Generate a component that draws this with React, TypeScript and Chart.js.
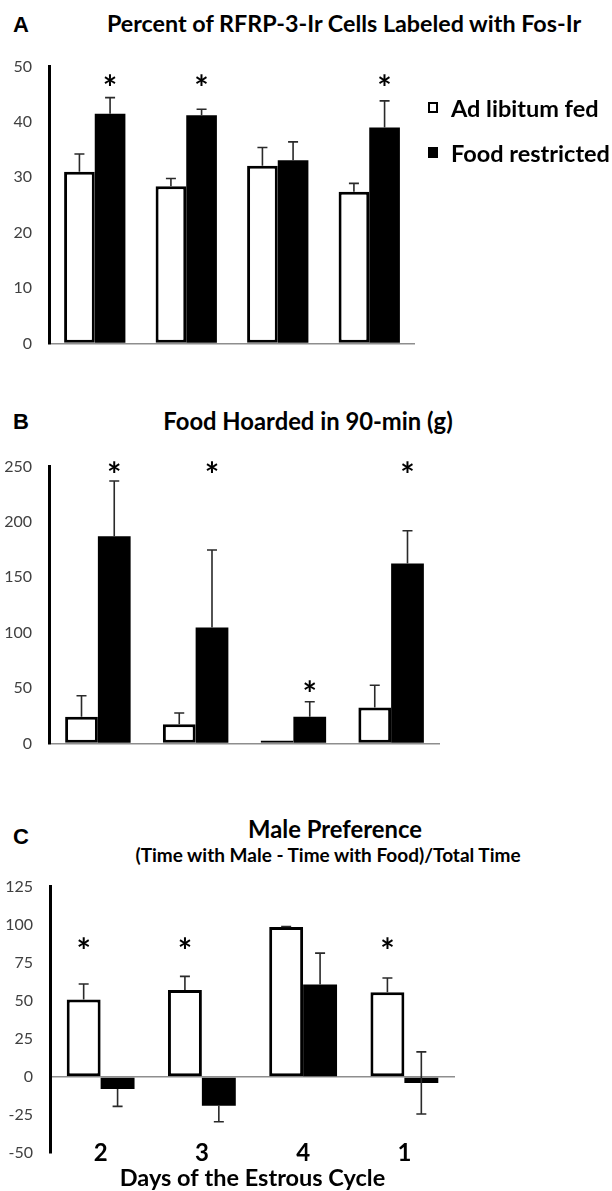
import React, { useEffect, useRef } from 'react';
import { Chart, registerables } from 'chart.js';

Chart.register(...registerables);

// ---------- data ----------
const seriesNames = ['Ad libitum fed', 'Food restricted'];
const cycleDays = ['2', '3', '4', '1'];

const fosAdLib = [31.0, 28.4, 32.1, 27.4];
const fosAdLibErr = [3.2, 1.4, 3.3, 1.5];
const fosRestricted = [41.5, 41.2, 33.1, 39.0];
const fosRestrictedErr = [2.9, 1.1, 3.3, 4.8];
const fosStars = [47.2, 47.2, null, 47.2];
const fosTicks = { min: 0, max: 50, step: 10 };

const hoardAdLib = [24, 17.4, 1.5, 32.5];
const hoardAdLibErr = [19, 10, 0, 20];
const hoardRestricted = [187, 104.7, 24, 162.4];
const hoardRestrictedErr = [50, 70, 13.6, 29.6];
const hoardStars = [248, 248, 49.7, 248];
const hoardTicks = { min: 0, max: 250, step: 50 };

const prefAdLib = [50.8, 57, 98.4, 55.6];
const prefAdLibErrPlus = [10.2, 9, 0.4, 9.4];
const prefAdLibStars = [86.8, 86.8, null, 86.8];
const prefRestricted = [-8, -19, 60.7, -4];
const prefRestrictedErrPlus = [0, 0, 20.6, 20.4];
const prefRestrictedErrMinus = [11.4, 10.5, 0, 20.4];
const prefTicks = { min: -50, max: 125, step: 25 };

const titleA = 'Percent of RFRP-3-Ir Cells Labeled with Fos-Ir';
const titleB = 'Food Hoarded in 90-min (g)';
const titleC = 'Male Preference';
const subtitleC = '(Time with Male - Time with Food)/Total Time';
const xTitleC = 'Days of the Estrous Cycle';

// ---------- styling ----------
const LATO = 'Lato, "Open Sans", sans-serif';
const ARIAL = '"Liberation Sans", Arial, sans-serif';

const errorBarPlugin = {
  id: 'errorBarsAndStars',
  afterDatasetsDraw(chart: any) {
    const ctx = chart.ctx;
    const ys = chart.scales.y;
    chart.data.datasets.forEach((ds: any, di: number) => {
      const meta = chart.getDatasetMeta(di);
      meta.data.forEach((bar: any, i: number) => {
        const v = ds.data[i];
        const x = bar.x;
        const from = ys.getPixelForValue(v);
        const drawErr = (to: number) => {
          const py = ys.getPixelForValue(to);
          ctx.save();
          ctx.strokeStyle = '#2a2a2a';
          ctx.lineWidth = 1.6;
          ctx.beginPath();
          ctx.moveTo(x, from);
          ctx.lineTo(x, py);
          ctx.moveTo(x - 5, py);
          ctx.lineTo(x + 5, py);
          ctx.stroke();
          ctx.restore();
        };
        if (ds.errPlus && ds.errPlus[i]) drawErr(v + ds.errPlus[i]);
        if (ds.errMinus && ds.errMinus[i]) drawErr(v - ds.errMinus[i]);
        if (ds.stars && ds.stars[i] != null) {
          const py = ys.getPixelForValue(ds.stars[i]);
          ctx.save();
          ctx.fillStyle = '#000';
          ctx.font = 'bold 34px ' + LATO;
          ctx.textAlign = 'center';
          ctx.textBaseline = 'alphabetic';
          ctx.fillText('*', x, py + 18);
          ctx.restore();
        }
      });
    });
  },
};

// category labels drawn at the bottom edge of the plot (Excel "low" position)
const lowLabelsPlugin = {
  id: 'lowLabels',
  afterDraw(chart: any) {
    if (!chart.options.plugins.lowLabels || !chart.options.plugins.lowLabels.show) return;
    const ctx = chart.ctx;
    const xs = chart.scales.x;
    const bottom = chart.chartArea.bottom;
    ctx.save();
    ctx.fillStyle = '#000';
    ctx.font = 'bold 24px ' + LATO;
    ctx.textAlign = 'center';
    ctx.textBaseline = 'alphabetic';
    chart.data.labels.forEach((lab: string, i: number) => {
      ctx.fillText(lab, xs.getPixelForValue(i), bottom + 8);
    });
    ctx.restore();
  },
};

function makeConfig(o: any) {
  return {
    type: 'bar',
    data: {
      labels: cycleDays,
      datasets: [
        {
          label: seriesNames[0],
          data: o.white,
          backgroundColor: '#ffffff',
          borderColor: '#000000',
          borderWidth: 3,
          borderSkipped: false,
          minBarLength: o.minBar || 0,
          errPlus: o.whiteErrPlus,
          errMinus: o.whiteErrMinus,
          stars: o.whiteStars,
          categoryPercentage: 0.67,
          barPercentage: 1.0,
        },
        {
          label: seriesNames[1],
          data: o.black,
          backgroundColor: '#000000',
          borderColor: '#000000',
          borderWidth: 0,
          errPlus: o.blackErrPlus,
          errMinus: o.blackErrMinus,
          stars: o.blackStars,
          categoryPercentage: 0.67,
          barPercentage: 1.0,
        },
      ],
    },
    options: {
      responsive: false,
      animation: false,
      layout: { padding: o.padding },
      plugins: {
        legend: { display: false },
        tooltip: { enabled: false },
        title: { display: false },
        lowLabels: { show: !!o.lowLabels },
      },
      scales: {
        x: {
          type: 'category',
          grid: { display: false, drawTicks: false },
          border: { display: false },
          ticks: { display: false },
          title: o.xTitle
            ? { display: true, text: o.xTitle, font: { family: LATO, size: 23.5, weight: 'bold' }, color: '#000', padding: { top: 0, bottom: -2 } }
            : { display: false },
          afterFit: (s: any) => { s.height = o.xHeight; },
        },
        y: {
          min: o.ticks.min,
          max: o.ticks.max,
          ticks: {
            stepSize: o.ticks.step,
            font: { family: LATO, size: 16 },
            color: '#404040',
            padding: 17,
          },
          grid: {
            drawTicks: false,
            lineWidth: 1.5,
            color: (c: any) => (c.tick && c.tick.value === 0 ? '#8e8e8e' : 'rgba(0,0,0,0)'),
          },
          border: { display: true, color: '#000', width: 3 },
          afterFit: (s: any) => { s.width = o.axisWidth; },
        },
      },
    },
    plugins: [errorBarPlugin, lowLabelsPlugin],
  };
}

function BarPanel({ top, height, cfg }: { top: number; height: number; cfg: any }) {
  const ref = useRef<HTMLCanvasElement | null>(null);
  useEffect(() => {
    if (!ref.current) return;
    const chart = new Chart(ref.current, makeConfig(cfg) as any);
    return () => chart.destroy();
  }, []);
  return (
    <canvas
      ref={ref}
      width={612}
      height={height}
      style={{ position: 'absolute', left: 0, top, width: 612, height }}
    />
  );
}

function Txt({ x, y, size, family = LATO, center = true, children }: any) {
  return (
    <div
      style={{
        position: 'absolute',
        left: x,
        top: y - size * 0.6,
        lineHeight: `${size * 1.2}px`,
        fontSize: size,
        fontWeight: 'bold',
        fontFamily: family,
        whiteSpace: 'nowrap',
        color: '#000',
        transform: center ? 'translateX(-50%)' : undefined,
      }}
    >
      {children}
    </div>
  );
}

export default function App() {
  return (
    <div style={{ position: 'absolute', left: 0, top: 0, width: 612, height: 1191, overflow: 'hidden', background: '#fff' }}>
      {/* Panel A */}
      <Txt x={13} y={25} size={22} family={ARIAL} center={false}>A</Txt>
      <Txt x={344} y={24} size={23.3}>{titleA}</Txt>
      <BarPanel
        top={40}
        height={330}
        cfg={{
          white: fosAdLib, whiteErrPlus: fosAdLibErr,
          black: fosRestricted, blackErrPlus: fosRestrictedErr, blackStars: fosStars,
          ticks: fosTicks, axisWidth: 49, xHeight: 0,
          padding: { top: 25, right: 197, bottom: 13, left: 0 },
        }}
      />
      <div style={{ position: 'absolute', left: 428, top: 102, width: 10, height: 11, border: '2.5px solid #000', boxSizing: 'border-box', background: '#fff' }} />
      <Txt x={451} y={108} size={23.5} center={false}>{seriesNames[0]}</Txt>
      <div style={{ position: 'absolute', left: 428, top: 147, width: 10, height: 11, background: '#000' }} />
      <Txt x={451} y={153} size={23.5} center={false}>{seriesNames[1]}</Txt>

      {/* Panel B */}
      <Txt x={13} y={422} size={22} family={ARIAL} center={false}>B</Txt>
      <Txt x={308} y={421} size={23.8}>{titleB}</Txt>
      <BarPanel
        top={440}
        height={330}
        cfg={{
          white: hoardAdLib, whiteErrPlus: hoardAdLibErr,
          black: hoardRestricted, blackErrPlus: hoardRestrictedErr, blackStars: hoardStars,
          ticks: hoardTicks, axisWidth: 49, xHeight: 0, minBar: 3,
          padding: { top: 21, right: 172, bottom: 17, left: 0 },
        }}
      />

      {/* Panel C */}
      <Txt x={13} y={837} size={22} family={ARIAL} center={false}>C</Txt>
      <Txt x={335} y={829} size={23.8}>{titleC}</Txt>
      <Txt x={328} y={855} size={19}>{subtitleC}</Txt>
      <BarPanel
        top={860}
        height={331}
        cfg={{
          white: prefAdLib, whiteErrPlus: prefAdLibErrPlus, whiteStars: prefAdLibStars,
          black: prefRestricted, blackErrPlus: prefRestrictedErrPlus, blackErrMinus: prefRestrictedErrMinus,
          ticks: prefTicks, axisWidth: 50, xHeight: 38, lowLabels: true, xTitle: xTitleC,
          padding: { top: 26, right: 157, bottom: 0, left: 0 },
        }}
      />
    </div>
  );
}
